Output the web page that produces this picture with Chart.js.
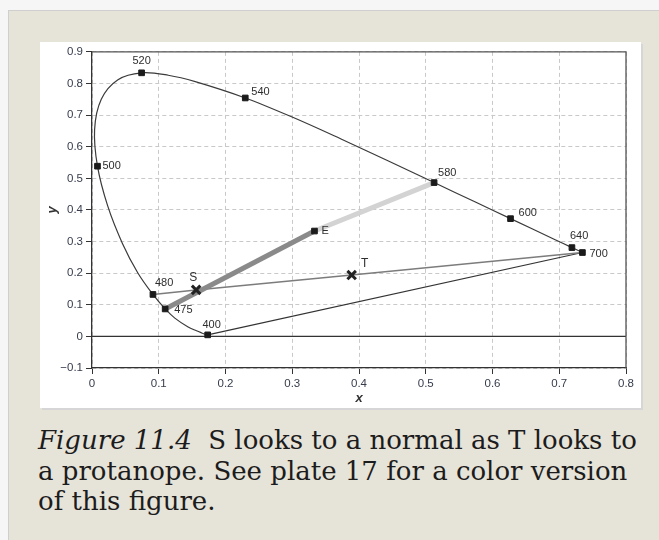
<!DOCTYPE html>
<html>
<head>
<meta charset="utf-8">
<script src="https://cdn.jsdelivr.net/npm/chart.js@4/dist/chart.umd.min.js"></script>
<style>
  html, body { margin: 0; padding: 0; }
  body { width: 659px; height: 540px; background: #f6f6f6; position: relative; overflow: hidden; }
  .frame { position: absolute; left: 8px; top: 10px; right: 0; bottom: 0; background: #e6e3d9;
           border-left: 1px solid #cfcfcf; border-top: 1px solid #cfcfcf; }
  .panel { position: absolute; left: 40px; top: 42px; width: 601px; height: 366px; background: #fff;
           box-shadow: 2px 2px 0 #d6d6d6; }
  .panel canvas { position: absolute; left: 0; top: 0; }
  .caption { position: absolute; left: 38px; top: 425px; font-family: "DejaVu Serif", serif;
             font-size: 26px; line-height: 30.5px; color: #1c1c1c; white-space: pre; }
  .caption i { font-style: italic; }
</style>
</head>
<body>
<div class="frame"></div>
<div class="panel"><canvas id="chart" width="601" height="366"></canvas></div>
<div class="caption"><i>Figure 11.4</i>  S looks to a normal as T looks to
a protanope. See plate 17 for a color version
of this figure.</div>

<script>
// spectral locus (chromaticity x, y), 400 nm -> 700 nm
const locusX = [0.1733, 0.1714, 0.1644, 0.1566, 0.1440, 0.1241, 0.1096, 0.0913, 0.0687, 0.0454, 0.0235, 0.0082, 0.0039,
                0.0139, 0.0389, 0.0743, 0.1142, 0.1547, 0.2296, 0.3016, 0.3731, 0.4441, 0.5125, 0.5752, 0.6270, 0.6915,
                0.7190, 0.7300, 0.7347];
const locusY = [0.0048, 0.0051, 0.0109, 0.0177, 0.0297, 0.0578, 0.0868, 0.1327, 0.2007, 0.2950, 0.4127, 0.5384, 0.6548,
                0.7502, 0.8120, 0.8338, 0.8262, 0.8059, 0.7543, 0.6923, 0.6245, 0.5547, 0.4866, 0.4242, 0.3725, 0.3083,
                0.2809, 0.2700, 0.2653];

// labelled square markers
const markerNames = ['400', '475', '480', '500', '520', '540', '580', '600', '640', '700', 'E'];
const markerX = [0.1733, 0.1096, 0.0913, 0.0082, 0.0743, 0.2296, 0.5125, 0.6270, 0.7190, 0.7347, 0.3333];
const markerY = [0.0048, 0.0868, 0.1327, 0.5384, 0.8338, 0.7543, 0.4866, 0.3725, 0.2809, 0.2653, 0.3333];

// cross markers
const crossNames = ['S', 'T'];
const crossX = [0.156, 0.389];
const crossY = [0.147, 0.194];

// axis ticks
const xTicks = [0, 0.1, 0.2, 0.3, 0.4, 0.5, 0.6, 0.7, 0.8];
const yTicks = [-0.1, 0, 0.1, 0.2, 0.3, 0.4, 0.5, 0.6, 0.7, 0.8, 0.9];

const pt = name => {
  let i = markerNames.indexOf(name);
  if (i >= 0) return { x: markerX[i], y: markerY[i] };
  i = crossNames.indexOf(name);
  return { x: crossX[i], y: crossY[i] };
};

// label placement relative to the mark: dx, dy (px), align
const labelPos = {
  '520': [0, -12, 'center'], '540': [6, -6, 'left'], '500': [5, 0, 'left'], '580': [4, -10, 'left'],
  '600': [8, -6, 'left'], '640': [-2, -12, 'left'], '700': [7, 1, 'left'], '480': [2, -11, 'left'],
  '475': [9, 1, 'left'], '400': [4, -10, 'center'], 'E': [7, 0, 'left'],
  'S': [-3, -12, 'center'], 'T': [13, -11, 'center']
};

const fmtTick = v => {
  if (Math.abs(v) < 1e-9) return '0';
  return (v < 0 ? '\u2212' : '') + Math.abs(v).toFixed(1);
};

const boxPlugin = {
  id: 'box',
  afterDatasetsDraw(chart) {
    const { ctx, chartArea: a } = chart;
    ctx.save();
    ctx.strokeStyle = '#555';
    ctx.lineWidth = 1.3;
    ctx.beginPath();
    ctx.moveTo(a.left, a.top);
    ctx.lineTo(a.right, a.top);
    ctx.lineTo(a.right, a.bottom);
    ctx.stroke();
    ctx.restore();
  }
};

const labelPlugin = {
  id: 'labels',
  afterDatasetsDraw(chart) {
    const { ctx, scales: { x, y } } = chart;
    ctx.save();
    ctx.fillStyle = '#2e2e2e';
    ctx.textBaseline = 'middle';
    Object.keys(labelPos).forEach(name => {
      const p = pt(name);
      const [dx, dy, align] = labelPos[name];
      const big = name === 'S' || name === 'T';
      ctx.font = (big ? '12px' : '11px') + ' "Liberation Sans", Arial, sans-serif';
      ctx.textAlign = align;
      ctx.fillText(name, x.getPixelForValue(p.x) + dx, y.getPixelForValue(p.y) + dy);
    });
    ctx.restore();
  }
};

const line = (data, color, width) => ({
  data, showLine: true, borderColor: color, borderWidth: width, pointRadius: 0, fill: false
});

const tickFont = { family: '"Liberation Sans", Arial, sans-serif', size: 11.5 };

new Chart(document.getElementById('chart'), {
  type: 'scatter',
  data: {
    datasets: [
      {
        data: markerX.map((v, i) => ({ x: v, y: markerY[i] })),
        pointStyle: 'rect', pointRadius: 4, backgroundColor: '#1b1b1b', borderColor: '#1b1b1b', borderWidth: 1
      },
      {
        data: crossX.map((v, i) => ({ x: v, y: crossY[i] })),
        pointStyle: 'crossRot', pointRadius: 6, borderColor: '#222', borderWidth: 3
      },
      line([pt('475'), pt('E')], '#8a8a8a', 5),
      line([pt('E'), pt('580')], '#d3d3d3', 5),
      line([pt('480'), pt('S'), pt('T'), pt('700')], '#7c7c7c', 1.5),
      line([pt('400'), pt('700')], '#333', 1.2),
      Object.assign(line(locusX.map((v, i) => ({ x: v, y: locusY[i] })), '#3a3a3a', 1.2), { tension: 0.35 }),
      line([{ x: xTicks[0], y: 0 }, { x: xTicks[xTicks.length - 1], y: 0 }], '#333', 1.2)
    ]
  },
  options: {
    responsive: false,
    animation: false,
    devicePixelRatio: 1,
    layout: { padding: { top: 9, right: 15, bottom: 0, left: 0 } },
    plugins: { legend: { display: false }, tooltip: { enabled: false } },
    scales: {
      x: {
        type: 'linear', min: xTicks[0], max: xTicks[xTicks.length - 1],
        afterBuildTicks: s => { s.ticks = xTicks.map(v => ({ value: v })); },
        afterFit: s => { s.height = 40; },
        ticks: { padding: 3, color: '#363c4c', font: tickFont, callback: fmtTick, maxRotation: 0 },
        grid: { color: '#c9c9c9', tickColor: '#333', tickLength: 6, tickWidth: 1 },
        border: { color: '#333', width: 1.3, dash: [4, 3] },
        title: { display: true, text: 'x', color: '#333', padding: { top: 0, bottom: 2 },
                 font: { family: '"Liberation Sans", Arial, sans-serif', size: 13, style: 'italic', weight: 'bold' } }
      },
      y: {
        type: 'linear', min: yTicks[0], max: yTicks[yTicks.length - 1],
        afterBuildTicks: s => { s.ticks = yTicks.map(v => ({ value: v })); },
        afterFit: s => { s.width = 52; },
        ticks: { padding: 3, color: '#363c4c', font: tickFont, callback: fmtTick },
        grid: { color: '#c9c9c9', tickColor: '#333', tickLength: 6, tickWidth: 1 },
        border: { color: '#333', width: 1.3, dash: [4, 3] },
        title: { display: true, text: 'y', color: '#333', padding: { top: 5, bottom: 0 },
                 font: { family: '"Liberation Sans", Arial, sans-serif', size: 13, style: 'italic', weight: 'bold' } }
      }
    }
  },
  plugins: [boxPlugin, labelPlugin]
});
</script>
</body>
</html>
